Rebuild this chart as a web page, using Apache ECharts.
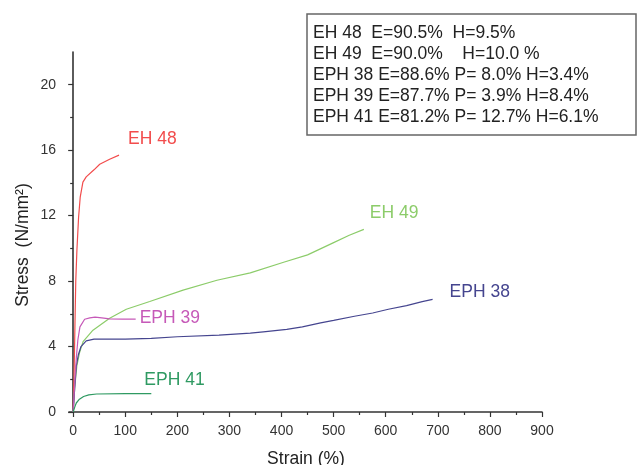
<!DOCTYPE html>
<html>
<head>
<meta charset="utf-8">
<script src="https://cdn.jsdelivr.net/npm/echarts@6/dist/echarts.min.js"></script>
<style>html,body{margin:0;padding:0;background:#fff}#c{width:637px;height:465px}</style>
</head>
<body>
<div id="c"></div>
<script>
// Data (strain %, stress N/mm2)
const eh48 = [[0,0],[1.5,2],[2.7,4],[3.8,6],[5,8],[7.2,9.9],[10.4,11.9],[13.6,13.15],[18.7,14.05],[25,14.37],[40,14.8],[51,15.14],[70,15.45],[88,15.7]];
const eh49 = [[0,0],[3,1.5],[7,2.8],[12,3.6],[19,4.3],[38,5.0],[70,5.73],[102,6.28],[147,6.75],[211,7.45],[276,8.05],[340,8.5],[404,9.15],[450,9.6],[500,10.35],[530,10.8],[558,11.16]];
const eph38 = [[0,0],[3,1.5],[6,2.8],[10,3.5],[15,4.0],[25,4.35],[40,4.45],[100,4.45],[150,4.5],[200,4.6],[280,4.7],[340,4.82],[365,4.9],[410,5.05],[440,5.2],[475,5.45],[500,5.6],[540,5.85],[575,6.05],[605,6.28],[640,6.5],[670,6.75],[690,6.88]];
const eph39 = [[0,0],[3,1.8],[6,3.3],[9,4.4],[13,5.2],[22,5.67],[32,5.75],[42,5.8],[55,5.75],[70,5.69],[95,5.68],[120,5.67]];
const eph41 = [[0,0],[3,0.3],[6,0.55],[12,0.78],[20,0.95],[30,1.05],[45,1.1],[100,1.12],[150,1.12]];
const seriesNames = ['EH 48','EH 49','EPH 38','EPH 39','EPH 41'];
const xMajorTicks = [0,100,200,300,400,500,600,700,800,900];
const xMinorTicks = [50,150,250,350,450,550,650,750,850];
const yMajorTicks = [0,4,8,12,16,20];
const yMinorTicks = [2,6,10,14,18];
const legendLines = [
  'EH 48  E=90.5%  H=9.5%',
  'EH 49  E=90.0%    H=10.0 %',
  'EPH 38 E=88.6% P= 8.0% H=3.4%',
  'EPH 39 E=87.7% P= 3.9% H=8.4%',
  'EPH 41 E=81.2% P= 12.7% H=6.1%'
];

const FONT = '"Liberation Sans", Arial, sans-serif';
const colors = ['#f24c4c','#8ccc6a','#45458f','#c659b8','#2f9a62'];
const labelOffsets = [[1,-16],[-2,-16],[9,-7],[-4,-1],[-15,-14]];
const datasets = [eh48, eh49, eph38, eph39, eph41];

const chart = echarts.init(document.getElementById('c'), null, {renderer:'canvas'});
const axisCommon = {
  axisLine:{show:true,lineStyle:{color:'#333',width:1.6}},
  splitLine:{show:false}
};
const option = {
  animation:false,
  backgroundColor:'#fff',
  grid:{left:69,right:95,top:52,bottom:53,containLabel:false},
  xAxis:[{
    type:'value',min:-8,max:900,position:'bottom',
    ...axisCommon,
    axisTick:{show:true,length:5,lineStyle:{color:'#333',width:1.2},customValues:xMajorTicks},
    axisLabel:{show:true,customValues:xMajorTicks,color:'#333',fontFamily:FONT,fontSize:14,margin:12}
  },{
    type:'value',min:-8,max:900,position:'bottom',
    axisLine:{show:false},splitLine:{show:false},axisLabel:{show:false},
    axisTick:{show:true,length:3,lineStyle:{color:'#333',width:1.2},customValues:xMinorTicks}
  }],
  yAxis:[{
    type:'value',min:0,max:22,position:'left',
    ...axisCommon,
    axisTick:{show:true,length:5,lineStyle:{color:'#333',width:1.2},customValues:yMajorTicks},
    axisLabel:{show:true,customValues:yMajorTicks,color:'#333',fontFamily:FONT,fontSize:14,margin:13}
  },{
    type:'value',min:0,max:22,position:'left',
    axisLine:{show:false},splitLine:{show:false},axisLabel:{show:false},
    axisTick:{show:true,length:3,lineStyle:{color:'#333',width:1.2},customValues:yMinorTicks}
  }],
  series: datasets.map((d,i)=>({
    name:seriesNames[i],type:'line',data:d,showSymbol:false,symbol:'none',
    xAxisIndex:0,yAxisIndex:0,
    lineStyle:{color:colors[i],width:1.2},
    itemStyle:{color:colors[i]},
    endLabel:{show:true,formatter:seriesNames[i],color:colors[i],fontFamily:FONT,fontSize:17.5,offset:labelOffsets[i]}
  })),
  graphic:[
    {type:'text',x:306,y:459,
     style:{text:'Strain (%)',font:'17.5px '+FONT,fill:'#222',textAlign:'center',textVerticalAlign:'middle'}},
    {type:'text',rotation:Math.PI/2,x:23,y:245,
     style:{text:'Stress  (N/mm\u00B2)',font:'17.5px '+FONT,fill:'#222',textAlign:'center',textVerticalAlign:'middle'}},
    {type:'rect',shape:{x:307,y:14,width:329,height:121},style:{fill:'none',stroke:'#666',lineWidth:1.5}},
    ...legendLines.map((t,i)=>({type:'text',x:313,y:33+i*21,
      style:{text:t,font:'17.5px '+FONT,fill:'#222',textVerticalAlign:'middle'}}))
  ]
};
chart.setOption(option);
</script>
</body>
</html>
